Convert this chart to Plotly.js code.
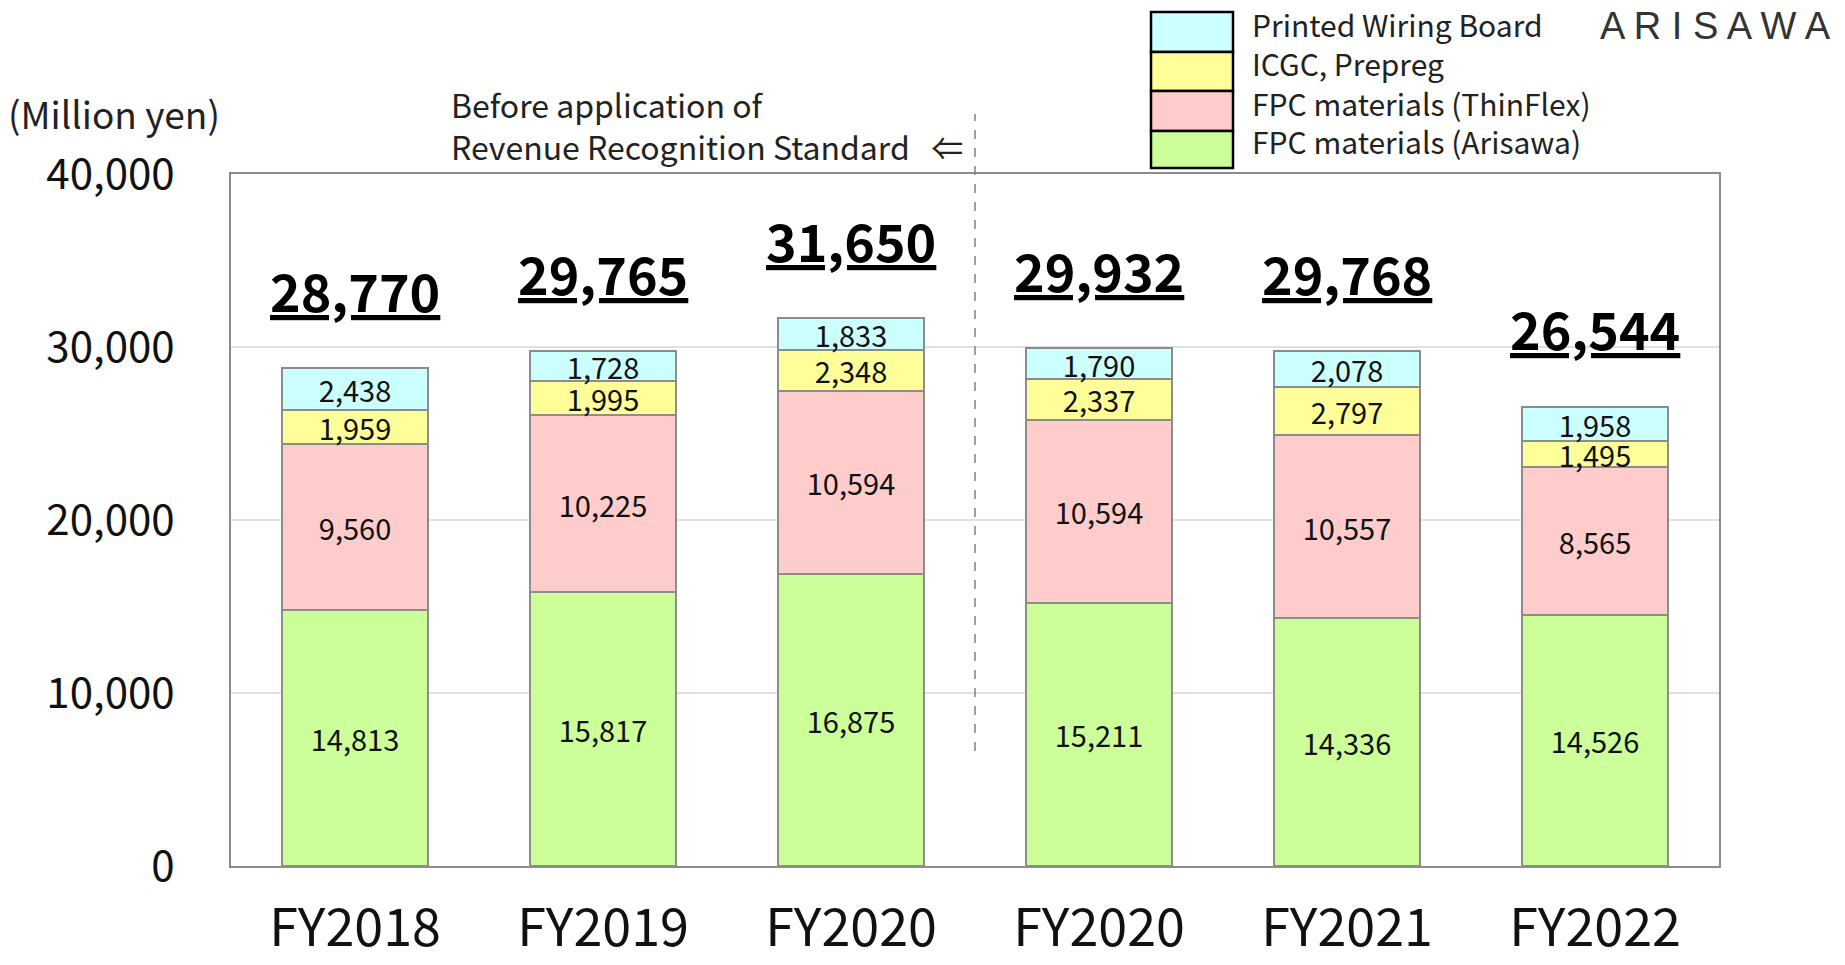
<!DOCTYPE html>
<html>
<head>
<meta charset="utf-8">
<script src="https://cdn.plot.ly/plotly-3.0.1.min.js"></script>
<style>html,body{margin:0;padding:0;background:#fff;}#chart{width:1845px;height:965px;}</style>
</head>
<body>
<div id="chart"></div>
<script>
// ---- Data ----
const categories = ["FY2018", "FY2019", "FY2020", "FY2020", "FY2021", "FY2022"];
const fpcArisawa  = [14813, 15817, 16875, 15211, 14336, 14526];
const fpcThinFlex = [9560, 10225, 10594, 10594, 10557, 8565];
const icgcPrepreg = [1959, 1995, 2348, 2337, 2797, 1495];
const printedWiringBoard = [2438, 1728, 1833, 1790, 2078, 1958];
const totals = [28770, 29765, 31650, 29932, 29768, 26544];
const yTicks = [0, 10000, 20000, 30000, 40000];

const seriesNames = ["FPC materials (Arisawa)", "FPC materials (ThinFlex)", "ICGC, Prepreg", "Printed Wiring Board"];
const seriesValues = [fpcArisawa, fpcThinFlex, icgcPrepreg, printedWiringBoard];
const seriesColors = ["#CCFF99", "#FFCCCC", "#FFFF99", "#CCFFFF"];

const FONT = '"Noto Sans CJK JP", "Noto Sans", sans-serif';
const xIdx = categories.map((c, i) => i);
const fmt = v => v.toLocaleString("en-US");

const traces = seriesValues.map((vals, k) => ({
  type: "bar",
  name: seriesNames[k],
  x: xIdx,
  y: vals,
  width: 0.59,
  marker: {color: seriesColors[k], line: {color: "#8C8C8C", width: 2}},
  text: vals.map(fmt),
  textposition: "inside",
  insidetextanchor: "middle",
  textangle: 0,
  constraintext: "none",
  textfont: {family: FONT, size: 29, color: "#111"},
  hoverinfo: "skip",
  showlegend: false
}));

// plot area geometry (pixels)
const W = 1845, H = 965;
const M = {l: 231, r: 126, t: 174, b: 99};
const PW = W - M.l - M.r, PH = H - M.t - M.b;
const px2x = p => (p - M.l) / PW;
const py2y = p => (H - M.b - p) / PH;

const annotations = [];
const shapes = [];

// totals
totals.forEach((t, i) => {
  annotations.push({
    x: i, y: t, xref: "x", yref: "y",
    text: "<b><u>" + fmt(t) + "</u></b>",
    showarrow: false, yanchor: "middle", yshift: 79,
    font: {family: FONT, size: 52, color: "#000"}
  });
});

// legend (custom, large boxes), top-down order
const legendOrder = [3, 2, 1, 0];
const rowTops = [12, 52, 91, 131, 168];
legendOrder.forEach((k, r) => {
  shapes.push({
    type: "rect", xref: "paper", yref: "paper",
    x0: px2x(1151), x1: px2x(1233),
    y0: py2y(rowTops[r + 1]), y1: py2y(rowTops[r]),
    fillcolor: seriesColors[k], line: {color: "#000", width: 2.5}
  });
  annotations.push({
    xref: "paper", yref: "paper",
    x: px2x(1250), y: py2y((rowTops[r] + rowTops[r + 1]) / 2 - 8),
    xanchor: "left", yanchor: "middle", showarrow: false,
    text: seriesNames[k], font: {family: FONT, size: 30, color: "#222"}
  });
});

// logo
annotations.push({
  xref: "paper", yref: "paper", x: px2x(1833), y: py2y(26),
  xanchor: "right", yanchor: "middle", showarrow: false,
  text: "A R I S A W A", font: {family: '"Liberation Sans", Arial, sans-serif', size: 38, color: "#333"}
});

// unit label
annotations.push({
  xref: "paper", yref: "paper", x: px2x(6), y: py2y(113),
  xanchor: "left", yanchor: "middle", showarrow: false,
  text: "(Million yen)", font: {family: FONT, size: 37, color: "#222"}
});

// note (two lines)
annotations.push({
  xref: "paper", yref: "paper", x: px2x(449), y: py2y(125),
  xanchor: "left", yanchor: "middle", align: "left", showarrow: false,
  text: "Before application of<br>Revenue Recognition Standard&nbsp;&nbsp;&nbsp;⇐",
  font: {family: FONT, size: 32, color: "#222"}
});

// dashed separator between the two FY2020 bars
shapes.push({
  type: "line", xref: "x", yref: "paper",
  x0: 2.5, x1: 2.5, y0: py2y(751), y1: py2y(114),
  line: {color: "#808080", width: 1.5, dash: "dash"}
});

const layout = {
  width: W, height: H,
  margin: M,
  barmode: "stack",
  paper_bgcolor: "#fff", plot_bgcolor: "#fff",
  showlegend: false,
  uniformtext: {mode: "show", minsize: 29},
  xaxis: {
    range: [-0.5, 5.5], tickvals: xIdx, ticktext: categories,
    showgrid: false, zeroline: false,
    showline: true, mirror: true, linecolor: "#8C8C8C", linewidth: 2,
    ticks: "", ticklabelstandoff: 16,
    tickfont: {family: FONT, size: 52, color: "#111"}
  },
  yaxis: {
    range: [0, 40000], tickvals: yTicks, ticktext: yTicks.map(fmt),
    showgrid: true, gridcolor: "#E0E0E0", gridwidth: 1.5, zeroline: false,
    showline: true, mirror: true, linecolor: "#8C8C8C", linewidth: 2,
    ticks: "", ticklabelstandoff: 46,
    tickfont: {family: FONT, size: 42, color: "#111"}
  },
  annotations: annotations,
  shapes: shapes
};

Plotly.newPlot("chart", traces, layout, {displayModeBar: false, staticPlot: true});
</script>
</body>
</html>
